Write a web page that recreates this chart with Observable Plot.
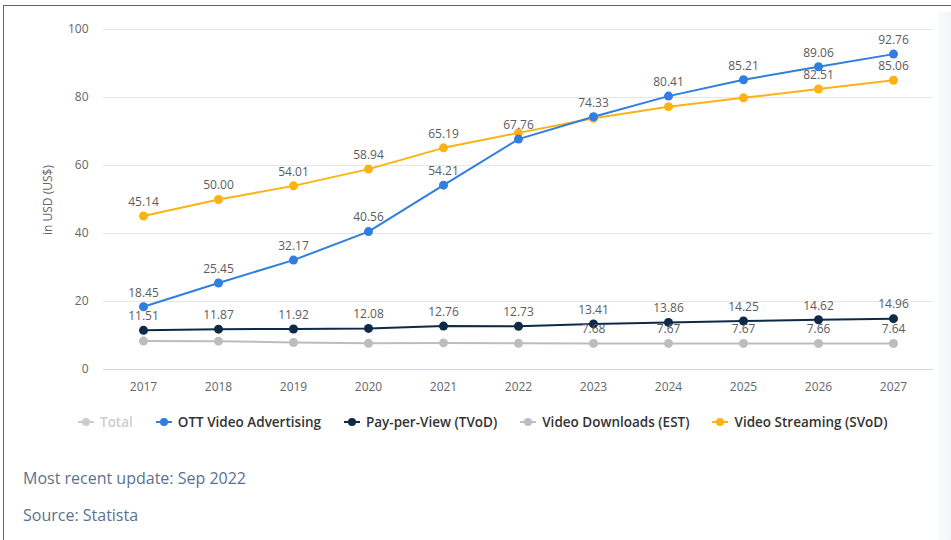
<!DOCTYPE html>
<html>
<head>
<meta charset="utf-8">
<script src="https://cdn.jsdelivr.net/npm/d3@7"></script>
<script src="https://cdn.jsdelivr.net/npm/@observablehq/plot@0.6"></script>
<style>
  html, body { margin: 0; padding: 0; background: #fff; }
  body { width: 951px; height: 540px; position: relative; overflow: hidden; font-family: "Open Sans", sans-serif; }
  #frame { position: absolute; left: 3px; top: 5px; width: 960px; height: 560px; border-top: 1.5px solid #666; border-left: 1.5px solid #666; }
  #sidepanel { position: absolute; left: 938px; top: 12px; width: 13px; height: 528px; background: linear-gradient(to right, #fafbfc, #f3f4f6); }
  #chart { position: absolute; left: 0; top: 0; }
  #ytitle { position: absolute; left: 47px; top: 200px; transform: translate(-50%, -50%) rotate(-90deg); font-size: 12px; color: #666; white-space: nowrap; }
  #legend { position: absolute; left: 78px; top: 413px; display: flex; align-items: center; font-size: 13.5px; font-weight: 600; color: #333; white-space: nowrap; }
  .item { display: flex; align-items: center; margin-right: 23px; }
  .item svg { margin-right: 6px; }
  .item.off { color: #ccc; }
  .note { position: absolute; left: 23px; font-size: 16px; color: #5a7291; }
</style>
</head>
<body>
<div id="frame"></div>
<div id="sidepanel"></div>
<div id="chart"></div>
<div id="ytitle">in USD (US$)</div>
<div id="legend"></div>
<div class="note" style="top:467px">Most recent update: Sep 2022</div>
<div class="note" style="top:504px">Source: Statista</div>
<script>
const years = [2017, 2018, 2019, 2020, 2021, 2022, 2023, 2024, 2025, 2026, 2027];
const ottAdvertising = [18.45, 25.45, 32.17, 40.56, 54.21, 67.76, 74.33, 80.41, 85.21, 89.06, 92.76];
const payPerView = [11.51, 11.87, 11.92, 12.08, 12.76, 12.73, 13.41, 13.86, 14.25, 14.62, 14.96];
const videoDownloads = [8.35, 8.33, 7.95, 7.70, 7.82, 7.70, 7.68, 7.67, 7.67, 7.66, 7.64];
const videoStreaming = [45.14, 50.00, 54.01, 58.94, 65.19, 69.6, 73.9, 77.3, 79.9, 82.51, 85.06];
const seriesNames = ["OTT Video Advertising", "Pay-per-View (TVoD)", "Video Downloads (EST)", "Video Streaming (SVoD)"];
const seriesColors = ["#2f7ee0", "#0e2a47", "#bdbdbd", "#fbb313"];
const legendNames = ["Total", ...seriesNames];
const legendColors = ["#cccccc", ...seriesColors];
// years whose value label is visible in the reference
const labelledYears = [
  years,
  years,
  [2023, 2024, 2025, 2026, 2027],
  [2017, 2018, 2019, 2020, 2021, 2026, 2027]
];
const yTicks = [0, 20, 40, 60, 80, 100];

const seriesValues = [ottAdvertising, payPerView, videoDownloads, videoStreaming];
const data = [];
seriesValues.forEach((vals, s) => {
  vals.forEach((v, i) => data.push({ series: seriesNames[s], year: years[i], value: v, label: labelledYears[s].includes(years[i]) }));
});
// draw order: downloads, pay-per-view, streaming, ott (ott on top)
const order = ["Video Downloads (EST)", "Pay-per-View (TVoD)", "Video Streaming (SVoD)", "OTT Video Advertising"];
data.sort((a, b) => order.indexOf(a.series) - order.indexOf(b.series));

const chart = Plot.plot({
  width: 951,
  height: 400,
  marginLeft: 103,
  marginRight: 18,
  marginTop: 29,
  marginBottom: 31,
  style: { fontFamily: "Open Sans, sans-serif", background: "transparent" },
  x: { type: "point", domain: years, padding: 0.5 },
  y: { domain: [0, 100] },
  color: { domain: seriesNames, range: seriesColors },
  marks: [
    Plot.ruleY(yTicks.filter(d => d > 0), { stroke: "#e6e6e6", strokeWidth: 1 }),
    Plot.ruleY([0], { stroke: "#ccd6eb", strokeWidth: 1 }),
    Plot.axisY({ ticks: yTicks, tickSize: 0, tickPadding: 15, fontSize: 12, color: "#666", label: null }),
    Plot.axisX({ tickSize: 0, tickPadding: 13, fontSize: 12, color: "#666", label: null, tickFormat: d => String(d) }),
    Plot.line(data, { x: "year", y: "value", z: "series", stroke: "series", strokeWidth: 2 }),
    Plot.dot(data, { x: "year", y: "value", fill: "series", r: 4.5 }),
    Plot.text(data.filter(d => d.label), { x: "year", y: "value", text: d => d.value.toFixed(2), dy: -14, fontSize: 12, fill: "#5c5c5c" })
  ]
});
document.getElementById("chart").appendChild(chart);

const legend = document.getElementById("legend");
legendNames.forEach((name, i) => {
  const item = document.createElement("div");
  item.className = "item" + (i === 0 ? " off" : "");
  item.innerHTML = `<svg width="16" height="10"><line x1="0" y1="5" x2="16" y2="5" stroke="${legendColors[i]}" stroke-width="2"/><circle cx="8" cy="5" r="4" fill="${legendColors[i]}"/></svg><span>${name}</span>`;
  legend.appendChild(item);
});
</script>
</body>
</html>
